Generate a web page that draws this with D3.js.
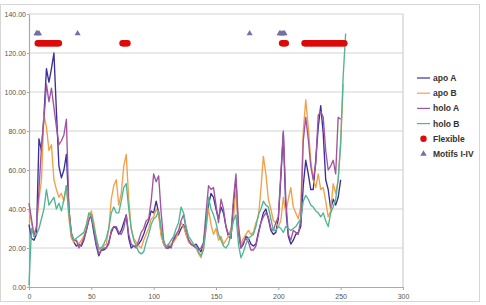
<!DOCTYPE html>
<html>
<head>
<meta charset="utf-8">
<script src="https://cdn.jsdelivr.net/npm/d3@7"></script>
<style>
  body { margin: 0; background: #fff; }
  svg { display: block; font-family: "Liberation Sans", Arial, sans-serif; }
</style>
</head>
<body>
<div id="chart"></div>
<script>
// residue numbers sampled every 2 residues
const residues = d3.range(0, 256, 2);

const apoA = [32,25,24,27,76,70,88,112,105,112,120,90,62,56,60,68,40,26,23,21,
  22,21,24,29,35,36,28,21,16,19,19,20,23,28,31,30,27,29,33,37,
  25,20,21,21,22,24,27,31,34,39,38,44,38,28,22,20,20,21,24,26,
  27,30,32,27,24,22,21,22,20,18,22,33,42,48,46,40,35,41,38,31,
  26,25,42,55,28,20,22,26,25,22,21,22,28,33,38,40,35,29,27,28,
  35,56,79,40,26,22,24,27,28,31,52,65,58,50,50,65,82,93,79,55,
  50,40,45,42,46,55,null,null];

const apoB = [40,33,27,31,45,55,88,82,70,73,55,50,46,48,44,52,35,25,23,24,
  22,24,26,30,36,39,33,25,19,20,21,22,30,45,52,55,42,48,62,68,
  45,30,25,23,21,20,24,27,30,35,36,40,37,26,22,20,21,22,23,25,
  29,33,31,27,23,22,21,20,17,15,21,30,40,32,27,30,24,26,22,24,
  26,30,34,51,30,22,25,27,29,27,28,33,36,50,67,58,45,40,34,33,
  31,34,46,38,45,51,41,38,35,41,80,96,82,65,55,51,58,50,51,44,
  36,39,53,48,55,75,104,null];

const holoA = [43,35,26,31,50,72,86,104,95,102,92,82,73,75,78,86,40,28,24,24,
  20,22,25,29,34,37,30,22,17,19,20,20,22,29,31,31,28,27,30,37,
  27,22,21,20,24,28,30,34,35,44,58,54,57,38,24,20,21,20,25,27,
  29,34,37,30,24,22,21,20,19,20,23,38,52,50,51,42,33,45,40,31,
  27,27,45,58,32,20,23,25,23,19,19,21,27,33,36,38,36,30,29,33,
  36,58,80,45,27,24,29,28,27,35,75,87,76,62,55,63,88,90,87,70,
  60,62,65,58,87,86,null,null];

const holoB = [1,30,26,27,30,35,40,50,42,44,46,40,43,39,45,52,38,27,24,25,
  26,27,28,32,38,37,31,25,20,20,22,25,30,38,41,38,38,44,51,53,
  40,30,24,21,18,17,18,23,27,32,35,36,39,30,23,21,22,24,26,30,
  33,41,38,31,26,24,22,21,18,16,19,30,46,40,37,33,27,24,21,20,
  22,27,34,37,22,15,18,22,25,26,27,31,37,40,44,42,41,35,29,29,
  31,30,28,31,30,29,30,31,33,35,44,47,45,42,41,39,38,36,38,34,
  31,38,41,45,55,73,108,130];

// flexible residues (drawn at 125) and motif residues (drawn at 130)
const flexible = [7,8,9,10,11,12,13,14,15,16,17,18,19,20,21,22,23,24,
  75,76,77,78,79,
  203,204,205,206,
  221,222,223,224,225,226,227,228,229,230,231,232,233,234,235,236,237,
  238,239,240,241,242,243,244,245,246,247,248,249,250,251,252,253];
const motifs = [6,7,8,39,177,201,202,203,204,205];

const yTicks = [0,20,40,60,80,100,120,140];
const xTicks = [0,50,100,150,200,250,300];

const seriesNames = ["apo A","apo B","holo A","holo B"];
const seriesColors = ["#3b2f9a","#f2a04a","#a0559e","#4fb592"];
const seriesData = [apoA, apoB, holoA, holoB];

const margin = {top: 14, right: 83, bottom: 18, left: 29},
    width = 486 - margin.left - margin.right,
    height = 305 - margin.top - margin.bottom;

const root = d3.select("#chart")
  .append("svg")
    .attr("width", 486)
    .attr("height", 305);

// outer frame
root.append("rect")
  .attr("x", 0.5).attr("y", 4.5)
  .attr("width", 479).attr("height", 297)
  .attr("fill", "none")
  .attr("stroke", "#d6d6d6");

const svg = root.append("g")
  .attr("transform", `translate(${margin.left}, ${margin.top})`);

const xScale = d3.scaleLinear().domain([0, 300]).range([0, width]);
const yScale = d3.scaleLinear().domain([0, 140]).range([height, 0]);

// horizontal gridlines
svg.append("g")
  .selectAll("line")
  .data(yTicks.filter(d => d > 0))
  .enter()
  .append("line")
    .attr("x1", 0).attr("x2", width)
    .attr("y1", d => yScale(d)).attr("y2", d => yScale(d))
    .attr("stroke", "#d4d4d4")
    .attr("stroke-width", 1.2);

// right border
svg.append("line")
  .attr("x1", width).attr("x2", width)
  .attr("y1", 0).attr("y2", height)
  .attr("stroke", "#cfcfcf")
  .attr("stroke-width", 1.2);

// axes
const xAxis = svg.append("g")
  .attr("transform", `translate(0, ${height})`)
  .call(d3.axisBottom(xScale).tickValues(xTicks).tickSize(3).tickSizeOuter(0));

const yAxis = svg.append("g")
  .call(d3.axisLeft(yScale).tickValues(yTicks).tickFormat(d3.format(".2f")).tickSize(2).tickSizeOuter(0));

[xAxis, yAxis].forEach(function(ax) {
  ax.select(".domain").attr("stroke", "#aaa").attr("stroke-width", 1.2);
  ax.selectAll(".tick line").attr("stroke", "#aaa");
  ax.selectAll(".tick text")
    .attr("fill", "#555")
    .style("font-size", "7px")
    .style("font-family", "'Liberation Sans', Arial, sans-serif");
});
xAxis.selectAll(".tick text").attr("dy", "0.9em");
yAxis.selectAll(".tick text").attr("x", -3);

// series lines
const line = d3.line()
  .defined(d => d[1] !== null)
  .x(d => xScale(d[0]))
  .y(d => yScale(d[1]));

seriesData.forEach(function(values, i) {
  svg.append("path")
    .datum(residues.map((r, j) => [r, values[j]]))
    .attr("d", line)
    .attr("fill", "none")
    .attr("stroke", seriesColors[i])
    .attr("stroke-width", 1.35)
    .attr("stroke-linejoin", "round");
});

// flexible residues
svg.append("g")
  .selectAll("circle")
  .data(flexible)
  .enter()
  .append("circle")
    .attr("cx", d => xScale(d))
    .attr("cy", yScale(125))
    .attr("r", 3.2)
    .attr("fill", "#dd0a0a");

// motifs I-IV
const tri = d3.symbol().type(d3.symbolTriangle).size(16);
svg.append("g")
  .selectAll("path")
  .data(motifs)
  .enter()
  .append("path")
    .attr("d", tri)
    .attr("transform", d => `translate(${xScale(d)}, ${yScale(130)})`)
    .attr("fill", "#7171a3");

// legend
const legendItems = [
  {name: "apo A", type: "line", color: seriesColors[0]},
  {name: "apo B", type: "line", color: seriesColors[1]},
  {name: "holo A", type: "line", color: seriesColors[2]},
  {name: "holo B", type: "line", color: seriesColors[3]},
  {name: "Flexible", type: "circle", color: "#dd0a0a"},
  {name: "Motifs I-IV", type: "triangle", color: "#7171a3"}
];

const legend = root.append("g")
  .attr("transform", "translate(417, 78)");

const item = legend.selectAll("g")
  .data(legendItems)
  .enter()
  .append("g")
    .attr("transform", (d, i) => `translate(0, ${i * 15.2})`);

item.filter(d => d.type === "line")
  .append("line")
    .attr("x1", 0).attr("x2", 13)
    .attr("stroke", d => d.color)
    .attr("stroke-width", 1.2);

item.filter(d => d.type === "circle")
  .append("circle")
    .attr("cx", 6.5).attr("r", 3.2)
    .attr("fill", d => d.color);

item.filter(d => d.type === "triangle")
  .append("path")
    .attr("d", d3.symbol().type(d3.symbolTriangle).size(18))
    .attr("transform", "translate(6.5, 0)")
    .attr("fill", d => d.color);

item.append("text")
  .attr("x", 16)
  .attr("dy", "0.35em")
  .style("font-size", "8.5px")
  .style("font-weight", "bold")
  .attr("fill", "#333")
  .text(d => d.name);
</script>
</body>
</html>
